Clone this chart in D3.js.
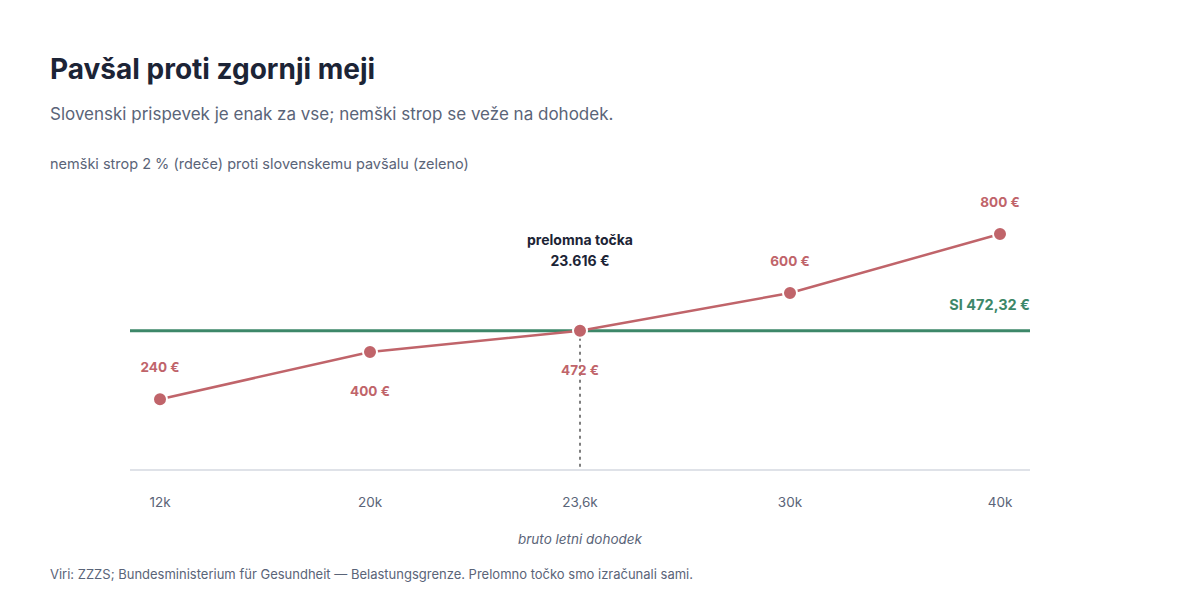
<!DOCTYPE html>
<html><head><meta charset="utf-8">
<script src="https://cdn.jsdelivr.net/npm/d3@7"></script>
<style>body{margin:0;background:#fff;font-family:Inter,"Noto Sans",sans-serif}</style>
</head><body>
<script>
// podatki
var incomes = ['12k', '20k', '23,6k', '30k', '40k'];
var germanCap = [240, 400, 472, 600, 800];
var labelPos = ['above', 'below', 'below', 'above', 'above'];
var slovenianFlat = 472.32;

var red = '#c0646a', green = '#3d8769', dark = '#1c2436', grey = '#5a6478';

var svg = d3.select('body').append('svg')
  .attr('width', 1200).attr('height', 600);

svg.append('text').attr('x', 50).attr('y', 79)
  .attr('font-size', 28).attr('font-weight', 700).attr('fill', dark)
  .text('Pavšal proti zgornji meji');
svg.append('text').attr('x', 50).attr('y', 120)
  .attr('font-size', 17).attr('fill', grey)
  .text('Slovenski prispevek je enak za vse; nemški strop se veže na dohodek.');
svg.append('text').attr('x', 50).attr('y', 169)
  .attr('font-size', 14.5).attr('fill', grey)
  .text('nemški strop 2 % (rdeče) proti slovenskemu pavšalu (zeleno)');

var x = d3.scalePoint().domain(incomes).range([130, 1030]).padding(1 / 7);
var y = d3.scaleLinear().domain([0, 800]).range([470, 234]);

// os
svg.append('line').attr('x1', 130).attr('x2', 1030)
  .attr('y1', y(0)).attr('y2', y(0)).attr('stroke', '#d5d8e0').attr('stroke-width', 1.5);
svg.selectAll('text.tick').data(incomes).enter().append('text')
  .attr('class', 'tick').attr('x', function(d){ return x(d); }).attr('y', 507)
  .attr('text-anchor', 'middle').attr('font-size', 13.5).attr('fill', grey)
  .text(function(d){ return d; });
svg.append('text').attr('x', 580).attr('y', 544).attr('text-anchor', 'middle')
  .attr('font-size', 13.5).attr('font-style', 'italic').attr('fill', grey)
  .text('bruto letni dohodek');

// pavšal
svg.append('line').attr('x1', 130).attr('x2', 1030)
  .attr('y1', y(slovenianFlat)).attr('y2', y(slovenianFlat))
  .attr('stroke', green).attr('stroke-width', 3);
svg.append('text').attr('x', 1030).attr('y', y(slovenianFlat) - 21)
  .attr('text-anchor', 'end').attr('font-size', 14.5).attr('font-weight', 700)
  .attr('fill', green).text('SI 472,32 €');

// prelomna točka
svg.append('line').attr('x1', x('23,6k')).attr('x2', x('23,6k'))
  .attr('y1', y(472)).attr('y2', y(0))
  .attr('stroke', '#555').attr('stroke-width', 1.5).attr('stroke-dasharray', '3,4');
svg.append('text').attr('x', x('23,6k')).attr('y', 245).attr('text-anchor', 'middle')
  .attr('font-size', 14).attr('font-weight', 700).attr('fill', dark).text('prelomna točka');
svg.append('text').attr('x', x('23,6k')).attr('y', 266).attr('text-anchor', 'middle')
  .attr('font-size', 14).attr('font-weight', 700).attr('fill', dark).text('23.616 €');

// nemški strop
var line = d3.line()
  .x(function(d, i){ return x(incomes[i]); })
  .y(function(d){ return y(d); });
svg.append('path').datum(germanCap).attr('d', line)
  .attr('fill', 'none').attr('stroke', red).attr('stroke-width', 2.5);
svg.selectAll('circle').data(germanCap).enter().append('circle')
  .attr('cx', function(d, i){ return x(incomes[i]); })
  .attr('cy', function(d){ return y(d); })
  .attr('r', 7).attr('fill', red).attr('stroke', '#fff').attr('stroke-width', 2);
svg.selectAll('text.val').data(germanCap).enter().append('text')
  .attr('class', 'val')
  .attr('x', function(d, i){ return x(incomes[i]); })
  .attr('y', function(d, i){ return labelPos[i] === 'above' ? y(d) - 27 : y(d) + 44; })
  .attr('text-anchor', 'middle').attr('font-size', 13.5).attr('font-weight', 700)
  .attr('fill', red)
  .text(function(d){ return d + ' €'; });
svg.selectAll('text.val').filter(function(d, i){ return i === 0; })
  .attr('y', y(240) - 27);

svg.append('text').attr('x', 50).attr('y', 579).attr('font-size', 13).attr('fill', grey)
  .text('Viri: ZZZS; Bundesministerium für Gesundheit — Belastungsgrenze. Prelomno točko smo izračunali sami.');
</script>
</body></html>
